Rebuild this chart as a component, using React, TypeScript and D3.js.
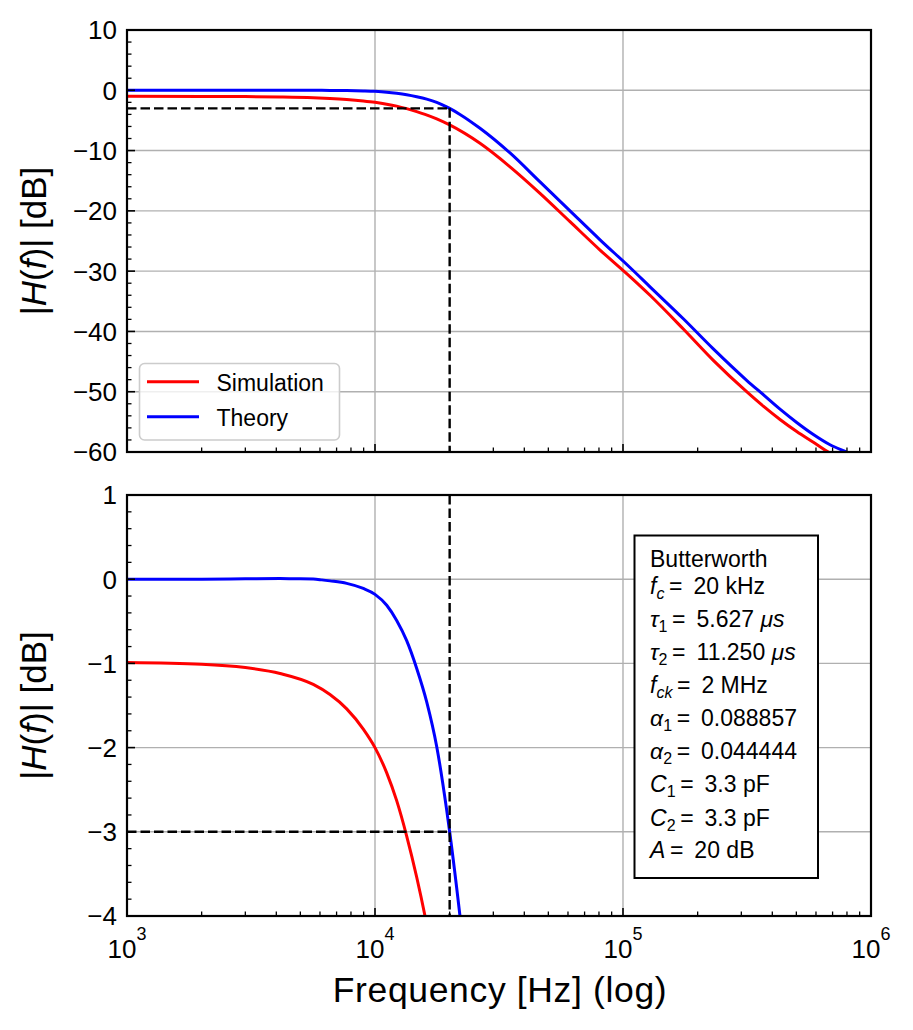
import React from 'react';
import * as d3 from 'd3';

// ---------- data ----------
const seriesNames = ['Simulation', 'Theory'];
const seriesColors = ['#ff0000', '#0000ff'];

const freqSim = [1000, 2000, 3000, 4141, 5638, 6584, 7690, 8970, 10000, 11150, 12230, 13420, 14730, 15910, 17740, 20000, 26510, 35030, 46280, 61140, 80800, 106700, 128500, 175100, 231300, 315200, 367900, 429600, 501700, 585600, 683500, 800000];
const dbSim = [-0.99, -1.01, -1.05, -1.12, -1.25, -1.37, -1.54, -1.78, -2.0, -2.3, -2.63, -3.05, -3.54, -4.0, -4.75, -5.75, -8.8, -12.7, -17.1, -21.8, -26.5, -30.9, -34.0, -39.6, -44.8, -50.0, -52.4, -54.6, -56.6, -58.4, -60.2, -61.5];

const freqTheory = [1000, 2000, 3000, 4141, 5000, 5638, 6100, 6584, 7690, 8970, 10000, 11150, 12230, 13420, 14730, 16170, 17740, 19450, 20000, 22010, 26510, 35030, 46280, 61140, 80800, 106700, 128500, 175100, 231300, 315200, 367900, 429600, 501700, 585600, 683500, 798000, 900000];
const dbTheory = [0, 0, 0.004, 0.007, 0.006, 0.002, -0.008, -0.02, -0.05, -0.11, -0.18, -0.31, -0.49, -0.73, -1.06, -1.46, -1.99, -2.74, -3.0, -4.0, -6.3, -10.4, -15.2, -20.0, -24.8, -29.4, -32.6, -37.9, -42.9, -48.1, -50.5, -52.9, -55.1, -57.1, -58.8, -60.0, -61.0];

const xMajorTicks = [1e3, 1e4, 1e5, 1e6];
const xTickExponents = ['3', '4', '5', '6'];
const topYTicks = [10, 0, -10, -20, -30, -40, -50, -60];
const bottomYTicks = [1, 0, -1, -2, -3, -4];

const cutoffFreq = 20000;
const cutoffDb = -3;

type Seg = { t: string; it?: boolean; sub?: boolean };
const boxLines: Seg[][] = [
  [{ t: 'Butterworth' }],
  [{ t: 'f', it: true }, { t: 'c', it: true, sub: true }, { t: '\u2009=\u2009 20 kHz' }],
  [{ t: 'τ', it: true }, { t: '1', sub: true }, { t: '\u2009=\u2009 5.627 ' }, { t: 'μs', it: true }],
  [{ t: 'τ', it: true }, { t: '2', sub: true }, { t: '\u2009=\u2009 11.250 ' }, { t: 'μs', it: true }],
  [{ t: 'f', it: true }, { t: 'ck', it: true, sub: true }, { t: '\u2009=\u2009 2 MHz' }],
  [{ t: 'α', it: true }, { t: '1', sub: true }, { t: '\u2009=\u2009 0.088857' }],
  [{ t: 'α', it: true }, { t: '2', sub: true }, { t: '\u2009=\u2009 0.044444' }],
  [{ t: 'C', it: true }, { t: '1', sub: true }, { t: '\u2009=\u2009 3.3 pF' }],
  [{ t: 'C', it: true }, { t: '2', sub: true }, { t: '\u2009=\u2009 3.3 pF' }],
  [{ t: 'A', it: true }, { t: '\u2009=\u2009 20 dB' }],
];
const boxBaselines = [566.7, 594, 627.3, 660, 693.3, 725.5, 759, 791.7, 825.5, 858.3];

// ---------- layout ----------
const W = 913;
const H = 1030;
const FONT = '"Liberation Sans", Arial, Helvetica, sans-serif';
const GRID = '#b0b0b0';

const x = d3.scaleLog().domain([1e3, 1e6]).range([127, 871]);
const yTop = d3.scaleLinear().domain([-60, 10]).range([452, 30]);
const yBot = d3.scaleLinear().domain([-4, 1]).range([916, 495]);

const xMinorTicks: number[] = [];
for (let e = 3; e < 6; e++) for (let k = 2; k <= 9; k++) xMinorTicks.push(k * Math.pow(10, e));

function minorTicks(lo: number, hi: number, step: number, majors: number[]) {
  const out: number[] = [];
  const n = Math.round((hi - lo) / step);
  for (let i = 0; i <= n; i++) {
    const v = lo + i * step;
    if (!majors.some((m) => Math.abs(m - v) < 1e-9)) out.push(v);
  }
  return out;
}

const simData: [number, number][] = freqSim.map((f, i) => [f, dbSim[i]]);
const theoryData: [number, number][] = freqTheory.map((f, i) => [f, dbTheory[i]]);
const seriesData = [simData, theoryData];

function Panel({ y, yMajor, yMinor, id, children, yLabelCenter }: any) {
  const [x0, x1] = x.range();
  const [yb, yt] = y.range();
  const line = d3
    .line<[number, number]>()
    .x((d) => x(d[0]))
    .y((d) => y(d[1]))
    .curve(d3.curveMonotoneX);
  return (
    <g>
      <defs>
        <clipPath id={id}>
          <rect x={x0} y={yt} width={x1 - x0} height={yb - yt} />
        </clipPath>
      </defs>
      {xMajorTicks.map((v) => (
        <line key={'gx' + v} x1={x(v)} x2={x(v)} y1={yt} y2={yb} stroke={GRID} strokeWidth={1.4} />
      ))}
      {yMajor.map((v: number) => (
        <line key={'gy' + v} x1={x0} x2={x1} y1={y(v)} y2={y(v)} stroke={GRID} strokeWidth={1.4} />
      ))}
      <g clipPath={`url(#${id})`}>
        {seriesData.map((d, i) => (
          <path key={i} d={line(d) || ''} fill="none" stroke={seriesColors[i]} strokeWidth={3} />
        ))}
        {children}
      </g>
      {xMajorTicks.map((v) => (
        <line key={'tx' + v} x1={x(v)} x2={x(v)} y1={yb} y2={yb - 8} stroke="#000" strokeWidth={1.6} />
      ))}
      {xMinorTicks.map((v) => (
        <line key={'mx' + v} x1={x(v)} x2={x(v)} y1={yb} y2={yb - 4.5} stroke="#000" strokeWidth={1.3} />
      ))}
      {yMajor.map((v: number) => (
        <line key={'ty' + v} x1={x0} x2={x0 + 8} y1={y(v)} y2={y(v)} stroke="#000" strokeWidth={1.6} />
      ))}
      {yMinor.map((v: number) => (
        <line key={'my' + v} x1={x0} x2={x0 + 4.5} y1={y(v)} y2={y(v)} stroke="#000" strokeWidth={1.3} />
      ))}
      <rect x={x0} y={yt} width={x1 - x0} height={yb - yt} fill="none" stroke="#000" strokeWidth={2.2} />
      {yMajor.map((v: number) => (
        <text key={'ly' + v} x={x0 - 10} y={y(v)} dy="0.36em" textAnchor="end" fontSize={26} fontFamily={FONT}>
          {d3.format('')(v)}
        </text>
      ))}
      <text
        transform={`translate(46,${yLabelCenter}) rotate(-90)`}
        textAnchor="middle"
        fontSize={35}
        fontFamily={FONT}
      >
        |<tspan fontStyle="italic">H</tspan>(<tspan fontStyle="italic">f</tspan>)| [dB]
      </text>
    </g>
  );
}

export default function App() {
  const dash = '9.5,4';
  return (
    <svg
      width={W}
      height={H}
      viewBox={`0 0 ${W} ${H}`}
      style={{ position: 'absolute', left: 0, top: 0, background: '#fff' }}
    >
      <rect x={0} y={0} width={W} height={H} fill="#fff" />
      <Panel
        y={yTop}
        yMajor={topYTicks}
        yMinor={minorTicks(-60, 10, 2, topYTicks)}
        id="clipTop"
        yLabelCenter={241}
      >
        <line x1={x(1e3)} x2={x(cutoffFreq)} y1={yTop(cutoffDb)} y2={yTop(cutoffDb)} stroke="#000" strokeWidth={2.4} strokeDasharray={dash} />
        <line x1={x(cutoffFreq)} x2={x(cutoffFreq)} y1={yTop(cutoffDb)} y2={yTop(-60)} stroke="#000" strokeWidth={2.4} strokeDasharray={dash} />
      </Panel>
      <Panel
        y={yBot}
        yMajor={bottomYTicks}
        yMinor={minorTicks(-4, 1, 0.2, bottomYTicks)}
        id="clipBot"
        yLabelCenter={705.5}
      >
        <line x1={x(1e3)} x2={x(cutoffFreq)} y1={yBot(cutoffDb)} y2={yBot(cutoffDb)} stroke="#000" strokeWidth={2.4} strokeDasharray={dash} />
        <line x1={x(cutoffFreq)} x2={x(cutoffFreq)} y1={yBot(1)} y2={yBot(-4)} stroke="#000" strokeWidth={2.4} strokeDasharray={dash} />
      </Panel>

      {/* legend */}
      <g>
        <rect x={139.5} y={363.5} width={200} height={76.5} rx={5} fill="#fff" fillOpacity={0.8} stroke="#cccccc" strokeWidth={1.6} />
        {seriesNames.map((n, i) => (
          <g key={n}>
            <line x1={147} x2={199} y1={381.7 + i * 35} y2={381.7 + i * 35} stroke={seriesColors[i]} strokeWidth={3} />
            <text x={216.5} y={390.5 + i * 35} fontSize={23} fontFamily={FONT}>
              {n}
            </text>
          </g>
        ))}
      </g>

      {/* x tick labels */}
      {xMajorTicks.map((v, i) => (
        <text key={'xl' + v} x={x(v)} y={958} textAnchor="middle" fontSize={26} fontFamily={FONT}>
          10
          <tspan dy={-18} fontSize={18}>
            {xTickExponents[i]}
          </tspan>
        </text>
      ))}
      <text
        x={499.7}
        y={1002}
        textAnchor="middle"
        fontSize={35.5}
        fontFamily={FONT}
        textLength={334}
        lengthAdjust="spacing"
      >
        Frequency [Hz] (log)
      </text>

      {/* parameter box */}
      <rect x={634.5} y={535.5} width={183.5} height={342.5} fill="#fff" stroke="#000" strokeWidth={2} />
      {boxLines.map((segs, li) => {
        const parts: any[] = [];
        let shift = 0;
        segs.forEach((s, si) => {
          const target = s.sub ? 5 : 0;
          const dy = target - shift;
          shift = target;
          parts.push(
            <tspan
              key={si}
              dy={dy}
              fontStyle={s.it ? 'italic' : 'normal'}
              fontSize={s.sub ? 16 : 23}
            >
              {s.t}
            </tspan>
          );
        });
        return (
          <text key={li} x={650} y={boxBaselines[li]} fontSize={23} fontFamily={FONT} xmlSpace="preserve">
            {parts}
          </text>
        );
      })}
    </svg>
  );
}
